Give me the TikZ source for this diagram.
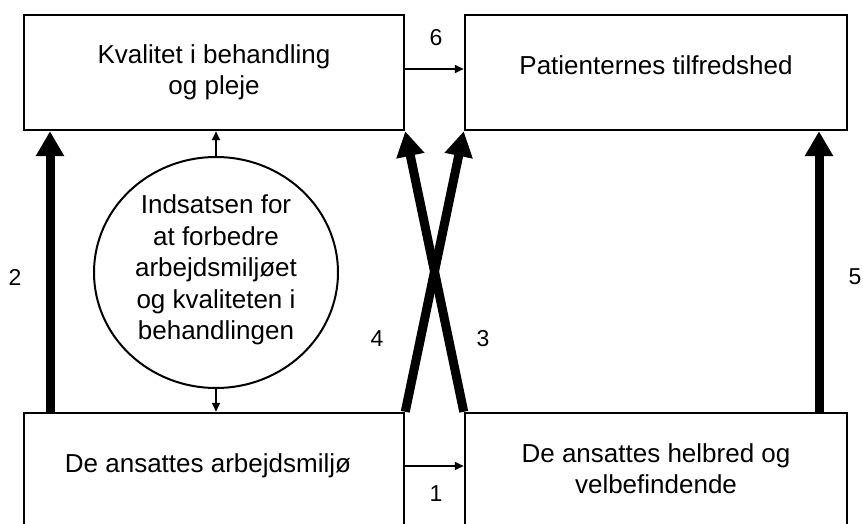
\documentclass[tikz,border=0pt]{standalone}
\usepackage{fontspec}
\setmainfont{Liberation Sans}
\usetikzlibrary{arrows.meta,shapes.geometric}
\begin{document}
\begin{tikzpicture}[x=1pt,y=-1pt,
  txt/.style={font=\fontsize{26}{31}\selectfont,align=center,inner sep=0pt},
  ctxt/.style={font=\fontsize{26}{31.5}\selectfont,align=center,inner sep=0pt},
  box/.style={draw,line width=2.5pt,inner sep=0pt},
  bigarrow/.style={line width=9pt,-{Triangle[width=27pt,length=25pt]}},
  smallarrow/.style={line width=1.8pt,-{Triangle[width=8pt,length=9pt]}},
  num/.style={font=\fontsize{23}{26}\selectfont,inner sep=0pt}]
\useasboundingbox (0,0) rectangle (863,524);
\clip (0,0) rectangle (863,524);
% boxes
\node[box,minimum width=380pt,minimum height=115pt] (TL) at (214,72.5) {};
\node[box,minimum width=382pt,minimum height=115pt] (TR) at (656,72.5) {};
\node[box,minimum width=380pt,minimum height=115pt] (BL) at (214,470.5) {};
\node[box,minimum width=382pt,minimum height=115pt] (BR) at (656,470.5) {};
% box texts
\node[txt] (tTL) at (214,72) {Kvalitet i behandling\\og pleje};
\node[txt] (tTR) at (656,65) {Patienternes tilfredshed};
\node[txt] (tBL) at (208,466) {De ansattes arbejdsmiljø};
\node[txt] (tBR) at (656,469) {De ansattes helbred og\\velbefindende};
% circle
\node[draw,ellipse,line width=2pt,minimum width=244pt,minimum height=231pt,inner sep=0pt] (C) at (216,272.5) {};
\node[ctxt] (tC) at (216,270) {Indsatsen for\\at forbedre\\arbejdsmiljøet\\og kvaliteten i\\behandlingen};
% thin arrows
\draw[smallarrow] (C.north) -- (C.north |- TL.south);
\draw[smallarrow] (C.south) -- (C.south |- BL.north);
\coordinate (y6) at (0,69);
\coordinate (y1) at (0,466);
\draw[smallarrow] (TL.east |- y6) -- (TR.west |- y6);
\draw[smallarrow] (BL.east |- y1) -- (BR.west |- y1);
% thick arrows
\coordinate (x2) at (50,0);
\coordinate (x5) at (819,0);
\draw[bigarrow] (x2 |- BL.north) -- (x2 |- TL.south);
\draw[bigarrow] (x5 |- BR.north) -- (x5 |- TR.south);
\draw[bigarrow] (BL.north east) -- (TR.south west);
\draw[bigarrow] (BR.north west) -- (TL.south east);
% numbers
\node[num] (n6) at (436,38) {6};
\node[num] (n1) at (436,494) {1};
\node[num] (n2) at (15,277) {2};
\node[num] (n5) at (855,277) {5};
\node[num] (n4) at (377,339) {4};
\node[num] (n3) at (483,339) {3};
\end{tikzpicture}
\end{document}
